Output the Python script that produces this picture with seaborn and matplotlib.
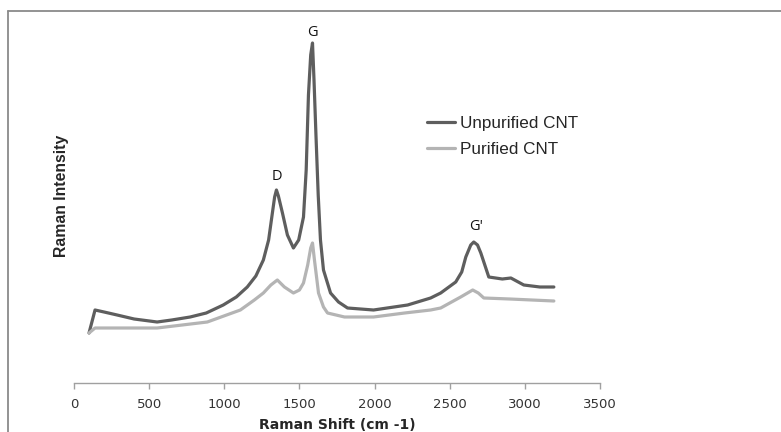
import matplotlib
matplotlib.use("Agg")
import matplotlib.pyplot as plt
import seaborn as sns
import pandas as pd
from matplotlib.lines import Line2D

# Data (intensity in arbitrary units)
unpurified_shift = [100, 140, 200, 287, 400, 553, 650, 773, 880, 993, 1080, 1153, 1210, 1260,
                    1295, 1320, 1335, 1347, 1360, 1387, 1420, 1460, 1495, 1527, 1545, 1560,
                    1575, 1587, 1597, 1610, 1625, 1640, 1660, 1707, 1760, 1820, 1993, 2220,
                    2373, 2440, 2540, 2580, 2607, 2640, 2660, 2685, 2707, 2760, 2850, 2907,
                    2993, 3100, 3193]
unpurified_px = [333, 310, 312, 315, 319, 322, 320, 317, 313, 305, 297, 287, 276, 260,
                 240, 213, 197, 190, 196, 213, 235, 248, 240, 217, 170, 95,
                 55, 43, 80, 135, 195, 240, 270, 293, 302, 308, 310, 305,
                 298, 293, 282, 272, 257, 245, 242, 245, 253, 277, 279, 278,
                 285, 287, 287]
purified_shift = [100, 140, 300, 553, 887, 1107, 1200, 1260, 1310, 1353, 1400, 1460, 1500,
                  1527, 1555, 1575, 1587, 1600, 1627, 1660, 1687, 1800, 1993, 2200, 2373,
                  2440, 2573, 2653, 2690, 2727, 2900, 3193]
purified_px = [333, 328, 328, 328, 322, 310, 300, 293, 285, 280, 287, 293, 290,
               283, 265, 248, 243, 260, 293, 307, 313, 317, 317, 313, 310,
               308, 297, 290, 293, 298, 299, 301]
series_names = ["Unpurified CNT", "Purified CNT"]
peak_labels = ["D", "G", "G'"]
peak_pos = [(1347, 206), (1587, 350), (2675, 157)]
x_ticks = [0, 500, 1000, 1500, 2000, 2500, 3000, 3500]

BASE = 383
unpurified = [BASE - v for v in unpurified_px]
purified = [BASE - v for v in purified_px]

df = pd.concat([
    pd.DataFrame({"shift": unpurified_shift, "intensity": unpurified, "series": series_names[0]}),
    pd.DataFrame({"shift": purified_shift, "intensity": purified, "series": series_names[1]}),
], ignore_index=True)

sns.set_theme(style="white")
W, H = 781, 432
fig = plt.figure(figsize=(W / 100, H / 100), dpi=100)
ax = fig.add_axes([74 / W, 1 - 383 / H, (600 - 74) / W, (383 - 30) / H])

colors = {series_names[0]: "#5e5e5e", series_names[1]: "#b4b4b4"}
sns.lineplot(data=df, x="shift", y="intensity", hue="series", palette=colors,
             hue_order=series_names, sort=False, linewidth=2.3, ax=ax, legend=False)

ax.set_xlim(0, 3500)
ax.set_ylim(0, 353)
ax.set_xticks(x_ticks)
ax.set_xticklabels([str(t) for t in x_ticks], family=["Liberation Sans Narrow", "DejaVu Sans"],
                   fontsize=9.5, color="#333333")
ax.set_yticks([])
for s in ["left", "right", "top"]:
    ax.spines[s].set_visible(False)
ax.spines["bottom"].set_color("#a0a0a0")
ax.spines["bottom"].set_linewidth(1.0)
ax.tick_params(axis="x", direction="out", length=4, width=1, color="#a0a0a0", pad=7, bottom=True)

ax.set_xlabel("Raman Shift (cm -1)", fontsize=10, fontweight="bold",
              family=["Liberation Sans Narrow", "DejaVu Sans"], labelpad=5)
ax.set_ylabel("")
fig.text(62 / W, 1 - 196 / H, "Raman Intensity", rotation=90, ha="center", va="center",
         fontsize=11.3, fontweight="bold", family=["Liberation Sans", "DejaVu Sans"])

for lab, (px, py) in zip(peak_labels, peak_pos):
    ax.text(px, py, lab, ha="center", va="center", fontsize=10.5,
            family=["Open Sans", "DejaVu Sans"], color="#111111")

handles = [Line2D([], [], color=colors[n], lw=2.3) for n in series_names]
ax.legend(handles, series_names, loc="center left", bbox_to_anchor=((427 - 74) / 526, (383 - 136.5) / 353),
          frameon=False, handlelength=1.65, handletextpad=0.3, labelspacing=0.68,
          borderpad=0, borderaxespad=0,
          prop={"family": ["Liberation Sans", "DejaVu Sans"], "size": 12.3})

# figure border (cropped at right/bottom)
fig.add_artist(Line2D([8 / W, 1.0], [1 - 11 / H, 1 - 11 / H], transform=fig.transFigure,
                      color="#8a8a8a", lw=1.3))
fig.add_artist(Line2D([8 / W, 8 / W], [1 - 11 / H, 0.0], transform=fig.transFigure,
                      color="#8a8a8a", lw=1.3))

fig.savefig("out.png", dpi=100)
